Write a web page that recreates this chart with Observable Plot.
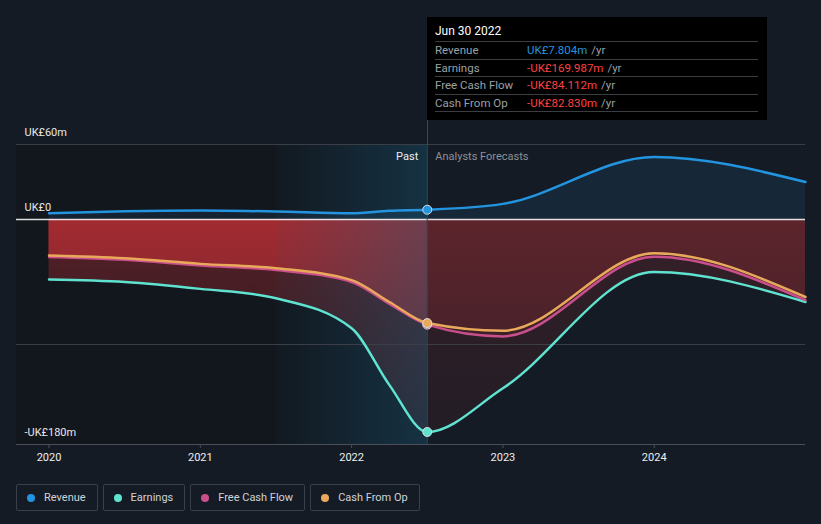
<!DOCTYPE html>
<html>
<head>
<meta charset="utf-8">
<script src="https://cdn.jsdelivr.net/npm/d3@7"></script>
<script src="https://cdn.jsdelivr.net/npm/@observablehq/plot@0.6"></script>
<style>
  html, body { margin: 0; padding: 0; background: #151b24; }
  body { width: 821px; height: 524px; overflow: hidden; font-family: Roboto, "Noto Sans", sans-serif; }
  #wrap { position: relative; width: 821px; height: 524px; }
  #chart svg { display: block; }
  #tip { position: absolute; top: 17px; width: 340px; height: 103px; background: #000; box-sizing: border-box; padding: 0 9px 0 8px; }
  #tip .head { color: #fff; font-size: 12px; height: 24px; line-height: 28px; border-bottom: 1px solid #3a3d42; }
  #tip .row { display: flex; font-size: 11.5px; height: 16.5px; line-height: 16px; border-bottom: 1px solid #3a3d42; }
  #tip .lab { width: 92px; color: #9aa0a7; }
  #tip .unit { color: #9aa0a7; margin-left: 4px; }
  #vline { position: absolute; top: 120px; width: 1px; height: 24px; background: #1f5266; }
  #legend { position: absolute; left: 16px; top: 484px; display: flex; gap: 5px; }
  #legend .item { height: 27px; box-sizing: border-box; border: 1px solid #3a404a; border-radius: 2px; display: flex; align-items: center; padding: 0 11px 0 10px; color: #cfd3d9; font-size: 11px; }
  #legend .dot { width: 8px; height: 8px; border-radius: 50%; margin-right: 9px; }
</style>
</head>
<body>
<div id="wrap">
  <div id="chart"></div>
  <div id="vline"></div>
  <div id="tip"></div>
  <div id="legend"></div>
</div>
<script>
// ---- data (UK£ millions) ----
const years        = [2020, 2020.5, 2021, 2021.5, 2022, 2022.25, 2022.5, 2023, 2024, 2025];
const revenue      = [5.0, 6.6, 7.2, 6.4, 5.0, 7.0, 7.804, 12.5, 50, 30];
const earnings     = [-48, -50, -55.5, -63, -87, -132.5, -169.987, -135, -42, -66];
const freeCashFlow = [-30, -32.3, -36.8, -40.5, -50, -67.5, -84.112, -93.5, -29.8, -64.5];
const cashFromOp   = [-28.8, -31, -35.5, -39, -48.5, -66, -82.830, -89, -27, -62];

const seriesNames  = ["Revenue", "Earnings", "Free Cash Flow", "Cash From Op"];
const seriesColors = ["#2394df", "#5fe3d0", "#c94f8c", "#e9a95a"];
const tipValues    = ["UK£7.804m", "-UK£169.987m", "-UK£84.112m", "-UK£82.830m"];
const tipDate      = "Jun 30 2022";

const reportDate = 2022.5;
const highlightStart = 2021.5;
const xDomain = [2019.785, 2025];
const yDomain = [-180, 60];
const xTicks = [2020, 2021, 2022, 2023, 2024];
const gridValues = [60, -100];
const yLabelValues = [60, 0, -180];
const yLabelTexts = ["UK£60m", "UK£0", "-UK£180m"];

// ---- build table ----
const data = years.map((t, i) => ({t, revenue: revenue[i], earnings: earnings[i], fcf: freeCashFlow[i], cfo: cashFromOp[i]}));
const current = data.filter(d => d.t === reportDate);
const yLabels = yLabelValues.map((v, i) => ({v, label: yLabelTexts[i]}));
const curve = "monotone-x";

const chart = Plot.plot({
  width: 821,
  height: 470,
  marginLeft: 16,
  marginRight: 16,
  marginTop: 144,
  marginBottom: 26,
  style: {background: "transparent", fontFamily: "Roboto, sans-serif", fontSize: "11px", color: "#e6e6e6", overflow: "visible"},
  x: {domain: xDomain, axis: null},
  y: {domain: yDomain, axis: null},
  marks: [
    Plot.rect([{x1: xDomain[0], x2: reportDate, y1: yDomain[0], y2: yDomain[1]}], {x1: "x1", x2: "x2", y1: "y1", y2: "y2", fill: "#12161d"}),
    Plot.areaY(data, {x: "t", y1: 0, y2: "earnings", fill: "url(#redGrad)", curve}),
    Plot.areaY(data, {x: "t", y1: 0, y2: "fcf", fill: "url(#redGrad)", curve}),
    Plot.areaY(data, {x: "t", y1: 0, y2: "cfo", fill: "url(#redGrad)", curve}),
    Plot.rect([{x1: reportDate, x2: xDomain[1], y1: yDomain[0], y2: yDomain[1]}], {x1: "x1", x2: "x2", y1: "y1", y2: "y2", fill: "#151b24", fillOpacity: 0.5}),
    Plot.rect([{x1: highlightStart, x2: reportDate, y1: yDomain[0], y2: yDomain[1]}], {x1: "x1", x2: "x2", y1: "y1", y2: "y2", fill: "url(#pastGrad)"}),
    Plot.areaY(data, {x: "t", y1: 0, y2: "revenue", fill: "#2394df", fillOpacity: 0.1, curve}),
    Plot.ruleY(gridValues, {stroke: "#3a3f47"}),
    Plot.ruleY([yDomain[0]], {stroke: "#4a4f57"}),
    Plot.axisX({ticks: xTicks, tickSize: 4, tickPadding: 5, tickFormat: d => String(d), stroke: "#4a4f57", fill: "#eeeeee", fontSize: 11}),
    Plot.ruleY([0], {stroke: "#ffffff", strokeOpacity: 0.85, strokeWidth: 1.5}),
    Plot.lineY(data, {x: "t", y: "earnings", stroke: seriesColors[1], strokeWidth: 2.5, curve}),
    Plot.lineY(data, {x: "t", y: "fcf", stroke: seriesColors[2], strokeWidth: 2.5, curve}),
    Plot.lineY(data, {x: "t", y: "cfo", stroke: seriesColors[3], strokeWidth: 2.5, curve}),
    Plot.lineY(data, {x: "t", y: "revenue", stroke: seriesColors[0], strokeWidth: 2.5, curve}),
    Plot.ruleX([reportDate], {stroke: "#1f5266"}),
    Plot.dot(current, {x: "t", y: "earnings", fill: seriesColors[1], stroke: "#d8dde2", strokeWidth: 1, r: 4.5}),
    Plot.dot(current, {x: "t", y: "fcf", fill: seriesColors[2], stroke: "#d8dde2", strokeWidth: 1, r: 4.5}),
    Plot.dot(current, {x: "t", y: "cfo", fill: seriesColors[3], stroke: "#d8dde2", strokeWidth: 1, r: 4.5}),
    Plot.dot(current, {x: "t", y: "revenue", fill: seriesColors[0], stroke: "#d8dde2", strokeWidth: 1, r: 4.5}),
    Plot.text(yLabels, {x: xDomain[0], y: "v", text: "label", dx: 8, dy: -12, textAnchor: "start", lineAnchor: "middle", fill: "#e8e8e8", fontSize: 11}),
    Plot.text([{t: reportDate, v: yDomain[1]}], {x: "t", y: "v", text: () => "Past", dx: -9, dy: 12, textAnchor: "end", lineAnchor: "middle", fill: "#eeeeee", fontSize: 11}),
    Plot.text([{t: reportDate, v: yDomain[1]}], {x: "t", y: "v", text: () => "Analysts Forecasts", dx: 8, dy: 12, textAnchor: "start", lineAnchor: "middle", fill: "#8a9099", fontSize: 11})
  ]
});

const ys = chart.scale("y");
const xs = chart.scale("x");
const y0 = ys && ys.apply ? ys.apply(0) : 219;
const yb = ys && ys.apply ? ys.apply(yDomain[0]) : 444;
const ns = "http://www.w3.org/2000/svg";
const defs = document.createElementNS(ns, "defs");
defs.innerHTML = `
  <linearGradient id="redGrad" gradientUnits="userSpaceOnUse" x1="0" y1="${y0}" x2="0" y2="${yb}">
    <stop offset="0" stop-color="#e0343a" stop-opacity="0.33"/>
    <stop offset="0.4" stop-color="#e0343a" stop-opacity="0.24"/>
    <stop offset="1" stop-color="#e0343a" stop-opacity="0.12"/>
  </linearGradient>
  <linearGradient id="pastGrad" x1="0" y1="0" x2="1" y2="0">
    <stop offset="0" stop-color="#1a6080" stop-opacity="0.04"/>
    <stop offset="1" stop-color="#1a6080" stop-opacity="0.38"/>
  </linearGradient>`;
chart.insertBefore(defs, chart.firstChild);
document.getElementById("chart").appendChild(chart);

const xr = xs && xs.apply ? xs.apply(reportDate) : 426;
const tip = document.getElementById("tip");
tip.style.left = Math.round(xr) + "px";
document.getElementById("vline").style.left = Math.round(xr) + "px";
let html = `<div class="head">${tipDate}</div>`;
seriesNames.forEach((n, i) => {
  const col = tipValues[i].startsWith("-") ? "#ff4040" : seriesColors[0];
  html += `<div class="row"><span class="lab">${n}</span><span style="color:${col}">${tipValues[i]}</span><span class="unit">/yr</span></div>`;
});
tip.innerHTML = html;

const legend = document.getElementById("legend");
seriesNames.forEach((n, i) => {
  const it = document.createElement("div");
  it.className = "item";
  it.innerHTML = `<span class="dot" style="background:${seriesColors[i]}"></span><span>${n}</span>`;
  legend.appendChild(it);
});
</script>
</body>
</html>
